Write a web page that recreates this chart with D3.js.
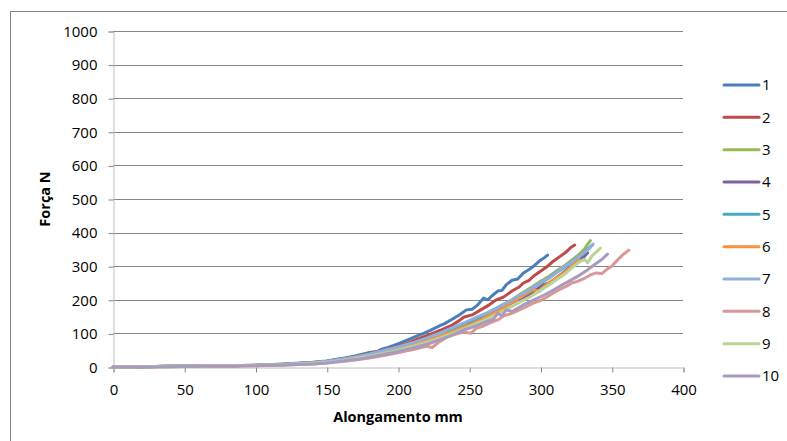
<!DOCTYPE html>
<html><head><meta charset="utf-8">
<script src="https://cdn.jsdelivr.net/npm/d3@7"></script>
<style>
body{margin:0;background:#fff;}
text{font-family:"Open Sans",sans-serif;fill:#000;}
</style></head>
<body>
<svg id="chart" width="787" height="441"></svg>
<script>
const seriesNames = ["1","2","3","4","5","6","7","8","9","10"];
const seriesColors = ["#4a7ebb","#be4b48","#98b954","#7d60a0","#46aac5","#f69240","#8fb0dc","#d99795","#b9d595","#a99bc0"];
const xTicks = [0,50,100,150,200,250,300,350,400];
const yTicks = [0,100,200,300,400,500,600,700,800,900,1000];

const s1 = [[0,0],[20,1],[40,2],[60,3],[80,4],[100,5],[120,9],[140,14],[150,18],[160,25],[170,33],[180,43],[185,46],[188,52],[193,58],[198,66],[203,74],[208,83],[213,92],[218,100],[223,110],[228,120],[233,130],[238,142],[243,155],[248,170],[252,172],[256,185],[260,205],[263,200],[266,212],[270,226],[273,228],[276,245],[280,258],[284,262],[288,280],[292,290],[296,303],[300,318],[303,326],[305,333]];
const s2 = [[0,0],[20,1],[40,2],[60,3],[80,4],[100,5],[120,8],[140,13],[150,17],[160,23],[170,31],[180,40],[190,50],[200,62],[208,73],[215,85],[222,96],[230,110],[238,125],[243,138],[246,148],[252,155],[258,170],[264,185],[269,200],[274,208],[280,226],[285,238],[288,250],[292,258],[295,270],[300,285],[305,300],[309,315],[314,330],[318,342],[321,355],[324,363]];
const s3 = [[0,0],[20,1],[40,2],[60,3],[80,4],[100,5],[120,7],[140,12],[150,16],[160,21],[170,28],[180,36],[190,45],[200,56],[210,68],[220,82],[230,98],[240,115],[250,134],[258,150],[265,165],[272,182],[280,200],[287,220],[294,238],[300,255],[306,270],[312,288],[318,305],[323,322],[327,335],[331,352],[333,365],[335,376]];
const s4 = [[0,0],[20,1],[40,2],[60,3],[80,4],[100,5],[120,7],[140,11],[150,15],[160,20],[170,26],[180,34],[190,43],[200,54],[210,66],[220,79],[230,94],[240,110],[250,128],[258,142],[265,158],[272,172],[278,186],[284,200],[290,210],[296,228],[302,245],[306,250],[310,262],[315,278],[320,295],[325,310],[328,322],[331,330],[333,340]];
const s5 = [[0,0],[20,1],[40,2],[60,3],[80,4],[100,5],[120,8],[140,12],[150,16],[160,22],[170,29],[180,37],[190,47],[200,58],[210,70],[220,84],[230,99],[240,116],[250,135],[258,150],[265,166],[272,180],[280,198],[287,215],[293,232],[300,250],[305,262],[310,278],[316,294],[321,310],[326,325],[330,338],[333,350],[336,362]];
const s6 = [[0,0],[20,1],[40,2],[60,3],[80,4],[100,5],[120,7],[140,12],[150,15],[160,21],[170,28],[180,36],[190,45],[200,55],[210,66],[220,79],[230,93],[240,108],[250,125],[258,140],[265,156],[272,170],[279,190],[285,205],[290,218],[295,230],[299,225],[303,242],[308,256],[313,270],[318,285],[322,300],[325,312],[327,324]];
const s7 = [[0,0],[20,1],[40,2],[60,3],[80,4],[100,5],[120,8],[140,13],[150,17],[160,23],[170,30],[180,39],[190,49],[200,60],[210,72],[220,86],[230,102],[240,120],[250,138],[256,150],[262,160],[268,172],[275,188],[282,205],[289,222],[296,240],[302,256],[308,270],[314,290],[320,308],[325,322],[330,338],[334,352],[337,366]];
const s8 = [[0,0],[20,0],[40,1],[60,2],[80,3],[100,4],[120,6],[140,9],[150,12],[160,16],[170,21],[180,27],[190,34],[200,42],[206,48],[211,52],[216,58],[220,62],[224,58],[228,72],[234,88],[240,97],[246,105],[251,100],[255,115],[260,122],[265,132],[270,140],[274,152],[279,158],[284,168],[290,180],[295,190],[300,198],[305,210],[309,220],[314,232],[318,240],[322,250],[326,255],[330,262],[335,274],[339,280],[343,278],[347,292],[350,300],[354,318],[358,335],[362,348]];
const s9 = [[0,0],[20,1],[40,2],[60,3],[80,4],[100,5],[120,7],[140,11],[150,14],[160,19],[170,25],[180,32],[190,40],[200,50],[210,61],[220,73],[230,87],[240,103],[250,120],[258,134],[265,148],[272,163],[280,180],[287,196],[294,212],[300,228],[306,244],[312,262],[318,280],[323,298],[328,315],[331,320],[333,310],[336,330],[339,342],[342,354]];
const s10 = [[0,0],[20,0],[40,1],[60,2],[80,3],[100,4],[120,6],[140,9],[150,12],[160,17],[170,22],[180,29],[190,37],[200,46],[210,56],[222,70],[230,82],[238,95],[246,110],[252,118],[258,128],[262,135],[267,142],[270,160],[273,152],[276,170],[280,165],[284,175],[288,185],[293,195],[298,205],[303,215],[309,229],[315,244],[321,258],[327,272],[333,289],[338,305],[343,320],[347,336]];
const seriesData = [s1,s2,s3,s4,s5,s6,s7,s8,s9,s10];

const svg = d3.select("#chart");
// outer chart border
svg.append("rect").attr("x",10.5).attr("y",11.5).attr("width",800).attr("height",460)
  .attr("fill","#fff").attr("stroke","#868686").attr("stroke-width",1);

const x = d3.scaleLinear().domain([0,400]).range([113,683]);
const y = d3.scaleLinear().domain([0,1000]).range([367,31]);

// gridlines
svg.append("g").selectAll("line").data(yTicks.filter(d=>d>0)).join("line")
  .attr("x1",x(0)).attr("x2",x(400))
  .attr("y1",d=>Math.round(y(d))+0.5).attr("y2",d=>Math.round(y(d))+0.5)
  .attr("stroke","#868686").attr("stroke-width",1);

// axes
const yAxis = svg.append("g").attr("transform",`translate(${x(0)+0.5},0.5)`)
  .call(d3.axisLeft(y).tickValues(yTicks).tickSize(5).tickPadding(11).tickFormat(d3.format("d")));
const xAxis = svg.append("g").attr("transform",`translate(0.5,${y(0)+0.5})`)
  .call(d3.axisBottom(x).tickValues(xTicks).tickSize(5).tickPadding(12).tickFormat(d3.format("d")));
[yAxis,xAxis].forEach(g=>{
  g.select(".domain").attr("stroke","#bfbfbf");
  g.selectAll(".tick line").attr("stroke","#868686");
  g.selectAll(".tick text").attr("font-size",15).attr("font-family","Open Sans").attr("fill","#000");
});

// lines
const line = d3.line().x(d=>x(d[0])).y(d=>y(d[1]));
svg.append("g").selectAll("path").data(seriesData).join("path")
  .attr("d",line).attr("fill","none")
  .attr("stroke",(d,i)=>seriesColors[i]).attr("stroke-width",3)
  .attr("stroke-linejoin","round").attr("stroke-linecap","round");

// axis titles
svg.append("text").attr("x",398).attr("y",422).attr("text-anchor","middle")
  .attr("font-size",14.5).attr("font-weight","bold").text("Alongamento mm");
svg.append("text").attr("transform","translate(50,199) rotate(-90)").attr("text-anchor","middle")
  .attr("font-size",14.5).attr("font-weight","bold").text("Força N");

// legend
const lg = svg.append("g");
const ly = d3.scaleLinear().domain([0,9]).range([85,376]);
seriesNames.forEach((n,i)=>{
  lg.append("line").attr("x1",724).attr("x2",759).attr("y1",ly(i)).attr("y2",ly(i))
    .attr("stroke",seriesColors[i]).attr("stroke-width",3).attr("stroke-linecap","round");
  lg.append("text").attr("x",762).attr("y",ly(i)).attr("dy","0.35em")
    .attr("font-size",15).text(n);
});
</script>
</body></html>
